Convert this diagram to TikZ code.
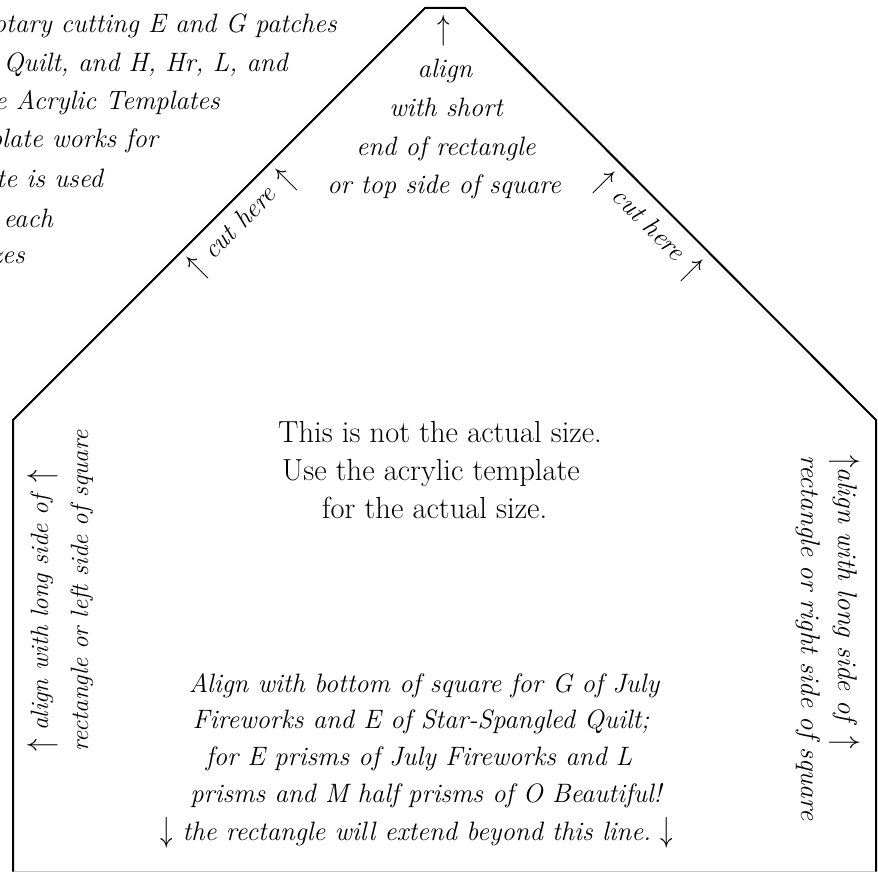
\documentclass[tikz,border=0pt]{standalone}
\usepackage{graphicx}
\newcommand{\uarr}{\raisebox{-0.12em}{\scalebox{1}[1.4]{$\uparrow$}}}
\newcommand{\darr}{\raisebox{-0.05em}{\scalebox{1}[1.4]{$\downarrow$}}}
\begin{document}
\begin{tikzpicture}[x=1pt,y=-1pt,
  it/.style={font=\itshape\fontsize{26.6}{38.5}\selectfont, inner sep=0pt},
  rm/.style={font=\fontsize{30.5}{38}\selectfont, inner sep=0pt},
  sideL/.style={font=\itshape\fontsize{25}{40}\selectfont, align=left, inner sep=0pt},
  sideR/.style={font=\itshape\fontsize{27}{37}\selectfont, align=left, inner sep=0pt},
  border/.style={line width=2pt, line join=miter, black}]
\useasboundingbox (0,0) rectangle (878,872);
\fill[white] (0,0) rectangle (878,872);
\begin{scope}
\clip (0,0) rectangle (878,872);
% outline
\coordinate (bl) at (13,871.5);
\coordinate (ml) at (13,420);
\coordinate (tl) at (425,8);
\coordinate (tr) at (465,8);
\coordinate (mr) at (876,420);
\coordinate (br) at (876,871.5);
\draw[black!22, line width=1.2pt] (bl) -- (br);
\draw[border] (bl) -- (ml) -- (tl) -- (tr) -- (mr) -- (br);
% top-left clipped note
\node[it, anchor=base east] (p1) at (337,33) {r rotary cutting E and G patches};
\node[it, anchor=base east] (p2) at (288,72) {d Quilt, and H, Hr, L, and};
\node[it, anchor=base east] (p3) at (220,110) {the Acrylic Templates};
\node[it, anchor=base east] (p4) at (158,148) {plate works for};
\node[it, anchor=base east] (p5) at (103,187) {ate is used};
\node[it, anchor=base east] (p6) at (53,227) {each};
\node[it, anchor=base east] (p7) at (25,263) {zes};
% top
\node[it] (ta) at (444,31) {\uarr};
\node[it, anchor=base] (t1) at (445,78) {align};
\node[it, anchor=base] (t2) at (446,117) {with short};
\node[it, anchor=base] (t3) at (446,155) {end of rectangle};
\node[it, anchor=base] (t4) at (444,193) {or top side of square};
% cut here
\node[it, rotate=45] (cl) at (242,224) {\uarr\hspace{10pt}cut here\hspace{12pt}\uarr};
\node[it, rotate=-45] (cr) at (648,227) {\uarr\hspace{9pt}cut here\hspace{12pt}\uarr};
% center
\node[rm, anchor=base west] (c1) at (278,442) {This is not the actual size.};
\node[rm, anchor=base west] (c2) at (282,480) {Use the acrylic template};
\node[rm, anchor=base west] (c3) at (322,518) {for the actual size.};
% sides
\node[sideL, rotate=90, anchor=west] (sl) at (60,752)
  {\uarr\ align with long side of\hspace{12pt}\uarr\\rectangle or left side of square};
\node[sideR, rotate=-90, anchor=west] (sr) at (828,455)
  {\uarr{}align with long side of\hspace{14pt}\uarr\\rectangle or right side of square};
% bottom
\node[it, anchor=base] (b1) at (424,692) {Align with bottom of square for G of July};
\node[it, anchor=base] (b2) at (421,728) {Fireworks and E of Star-Spangled Quilt;};
\node[it, anchor=base] (b3) at (419,765) {for E prisms of July Fireworks and L};
\node[it, anchor=base] (b4) at (426,802) {prisms and M half prisms of O Beautiful!};
\node[it, anchor=base] (b5) at (417,840) {\darr\ the rectangle will extend beyond this line.\ \darr};
\end{scope}
\end{tikzpicture}
\end{document}
